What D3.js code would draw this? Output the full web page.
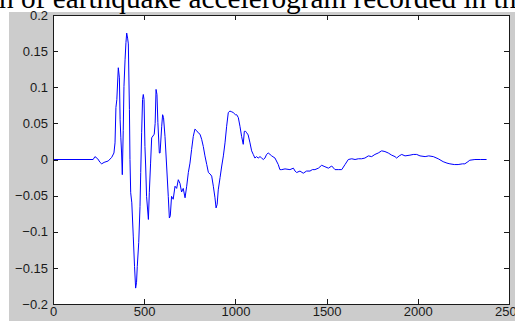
<!DOCTYPE html>
<html>
<head>
<meta charset="utf-8">
<script src="https://cdn.jsdelivr.net/npm/d3@7"></script>
<style>
  body { margin: 0; background: #fff; }
  .axis path, .axis line { stroke: #1a1a1a; shape-rendering: crispEdges; }
  .axis text { fill: #1a1a1a; font-family: Arial, "Liberation Sans", sans-serif; font-size: 13px; }
</style>
</head>
<body>
<svg id="chart" width="515" height="321"></svg>
<script>
// sample index of each read point
var samples = [0, 220, 230, 245, 258, 267, 280, 303, 322, 334, 340, 345, 350, 358, 364, 368, 372, 376, 380, 385,
    389, 395, 400, 404, 409, 413, 419, 422, 426, 432, 440, 447, 453, 458, 462, 470, 477, 481, 486, 491,
    495, 499, 504, 508, 513, 523, 528, 535, 541, 555, 560, 565, 570, 575, 583, 587, 596, 601, 606, 614,
    623, 632, 638, 643, 650, 659, 669, 678, 687, 696, 705, 714, 724, 733, 742, 751, 760, 769, 778, 787,
    796, 806, 815, 824, 833, 843, 852, 861, 870, 879, 888, 894, 900, 906, 916, 925, 934, 943, 952, 961,
    970, 980, 988, 1000, 1007, 1016, 1025, 1034, 1043, 1049, 1056, 1062, 1070, 1080, 1089, 1098, 1107, 1116, 1125, 1135,
    1144, 1153, 1162, 1171, 1180, 1190, 1199, 1217, 1235, 1244, 1254, 1272, 1299, 1318, 1327, 1336, 1354, 1372, 1390, 1409,
    1422, 1436, 1455, 1473, 1491, 1510, 1528, 1546, 1564, 1583, 1601, 1619, 1638, 1656, 1674, 1692, 1710, 1729, 1747, 1765,
    1783, 1802, 1820, 1838, 1857, 1875, 1884, 1898, 1912, 1930, 1957, 1975, 1994, 2012, 2040, 2060, 2085, 2112, 2139, 2160,
    2176, 2200, 2221, 2245, 2258, 2275, 2285, 2313, 2345, 2377];

// acceleration at each sample (g)
var accel = [0, 0, 0.004, 0.001, -0.004, -0.006, -0.004, -0.002, 0.003, 0.009, 0.023, 0.072, 0.083, 0.127, 0.113, 0.055, 0.030, 0.009, -0.021, 0.040,
    0.101, 0.138, 0.162, 0.175, 0.168, 0.160, 0.069, 0.0, -0.046, -0.060, -0.106, -0.148, -0.178, -0.170, -0.148, -0.115, -0.065, -0.018, 0.037, 0.083,
    0.090, 0.083, 0.018, -0.009, -0.051, -0.083, -0.046, -0.005, 0.030, 0.035, 0.050, 0.097, 0.090, 0.051, 0.009, 0.009, 0.046, 0.062, 0.058, 0.032,
    -0.009, -0.051, -0.081, -0.078, -0.051, -0.055, -0.037, -0.040, -0.028, -0.033, -0.045, -0.040, -0.053, -0.037, -0.018, -0.005, 0.014, 0.032, 0.042, 0.040,
    0.037, 0.035, 0.028, 0.018, 0.005, -0.007, -0.018, -0.020, -0.023, -0.037, -0.053, -0.067, -0.062, -0.042, -0.025, -0.009, 0.005, 0.023, 0.046, 0.065,
    0.067, 0.066, 0.065, 0.062, 0.062, 0.058, 0.046, 0.032, 0.021, 0.039, 0.039, 0.037, 0.034, 0.023, 0.012, 0.007, 0.002, 0.004, 0.002, 0.004,
    0.002, 0.0, 0.002, 0.007, 0.009, 0.007, 0.005, 0.002, -0.007, -0.014, -0.014, -0.013, -0.014, -0.012, -0.016, -0.018, -0.016, -0.019, -0.016, -0.016,
    -0.014, -0.014, -0.012, -0.008, -0.010, -0.012, -0.009, -0.014, -0.014, -0.014, -0.007, 0.0, 0.001, 0.0, 0.001, 0.001, 0.002, 0.005, 0.004, 0.007,
    0.009, 0.012, 0.011, 0.009, 0.006, 0.004, 0.002, 0.005, 0.007, 0.005, 0.006, 0.007, 0.007, 0.005, 0.004, 0.005, 0.004, 0.001, -0.003, -0.005,
    -0.006, -0.007, -0.007, -0.006, -0.006, -0.003, -0.001, 0.0, 0.0, 0.0];

var x_ticks = [0, 500, 1000, 1500, 2000, 2500];
var y_ticks = [-0.2, -0.15, -0.1, -0.05, 0, 0.05, 0.1, 0.15, 0.2];
var caption = "n of earthquake accelerogram recorded in th";

var svg = d3.select("#chart");
var plot_left = 53, plot_top = 15, plot_right = 509, plot_bottom = 304;

var xScale = d3.scaleLinear().domain([0, 2500]).range([plot_left, plot_right]);
var yScale = d3.scaleLinear().domain([-0.2, 0.2]).range([plot_bottom, plot_top]);

function draw_background() {
    // grey figure window and the white axes box
    svg.append("rect")
        .attr("x", 9).attr("y", 12)
        .attr("width", 515 - 9).attr("height", 321 - 12)
        .attr("fill", "#cccccc");
    svg.append("rect")
        .attr("x", plot_left).attr("y", plot_top)
        .attr("width", plot_right - plot_left).attr("height", plot_bottom - plot_top)
        .attr("fill", "#ffffff");

    // caption line cut off at the top of the image
    svg.append("text")
        .attr("x", -1)
        .attr("y", 8)
        .attr("font-family", "'Liberation Serif', 'Times New Roman', serif")
        .attr("font-size", "29.3px")
        .attr("fill", "#000")
        .text(caption);
}

function draw_axes() {
    var fmt = function(d) { return d3.format("")(+d.toFixed(2)); };

    svg.append("g")
        .attr("class", "axis")
        .attr("transform", "translate(0," + plot_bottom + ")")
        .call(d3.axisBottom(xScale).tickValues(x_ticks).tickSizeInner(-5).tickSizeOuter(0).tickPadding(3).tickFormat(d3.format("d")));

    svg.append("g")
        .attr("class", "axis")
        .attr("transform", "translate(" + plot_left + ",0)")
        .call(d3.axisLeft(yScale).tickValues(y_ticks).tickSizeInner(-5).tickSizeOuter(0).tickPadding(5).tickFormat(fmt));

    // mirrored ticks on top and right, MATLAB style box
    svg.append("g")
        .attr("class", "axis")
        .attr("transform", "translate(0," + plot_top + ")")
        .call(d3.axisTop(xScale).tickValues(x_ticks).tickSizeInner(-5).tickSizeOuter(0).tickFormat(""));

    svg.append("g")
        .attr("class", "axis")
        .attr("transform", "translate(" + plot_right + ",0)")
        .call(d3.axisRight(yScale).tickValues(y_ticks).tickSizeInner(-5).tickSizeOuter(0).tickFormat(""));
}

function draw_signal() {
    var points = samples.map(function(s, i) { return [s, accel[i]]; });
    var line = d3.line()
        .x(function(d) { return xScale(d[0]); })
        .y(function(d) { return yScale(d[1]); });

    svg.append("path")
        .datum(points)
        .attr("fill", "none")
        .attr("stroke", "#0000ff")
        .attr("stroke-width", 1)
        .attr("d", line);
}

draw_background();
draw_signal();
draw_axes();
</script>
</body>
</html>
